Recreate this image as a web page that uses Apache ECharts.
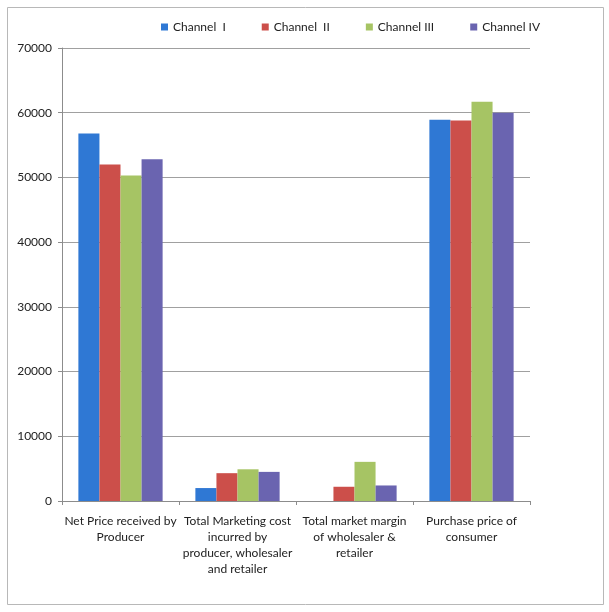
<!DOCTYPE html>
<html lang="en">
  <head>
    <meta charset="UTF-8">
    <title>Marketing channels</title>
    <style>
      body { margin: 0; background: #fff; }
      .chart { width: 609px; height: 612px; }
    </style>
  </head>
  <body>
    <div id="chart" class="chart"></div>
    <script src="https://cdn.jsdelivr.net/npm/echarts@6/dist/echarts.min.js"></script>
    <script type="text/javascript">
      // categories and values
      var categories = [
        'Net Price received by\nProducer',
        'Total Marketing cost\nincurred by\nproducer, wholesaler\nand retailer',
        'Total market margin\nof wholesaler &\nretailer',
        'Purchase price of\nconsumer'
      ];
      var channel1 = [56800, 2000, 0, 58900];
      var channel2 = [52000, 4300, 2200, 58800];
      var channel3 = [50300, 4900, 6050, 61700];
      var channel4 = [52800, 4500, 2400, 60000];
      var yTicks = [0, 10000, 20000, 30000, 40000, 50000, 60000, 70000];

      var seriesNames = ['Channel  I', 'Channel  II', 'Channel III', 'Channel IV'];
      var colors = ['#2f78d4', '#cc4f4a', '#a6c464', '#6a64b0'];
      var font = 'Lato, "Open Sans", sans-serif';

      var myChart = echarts.init(document.getElementById('chart'));

      var option = {
        backgroundColor: '#fff',
        color: colors,
        textStyle: { fontFamily: font },
        graphic: [{
          type: 'rect',
          shape: { x: 7.5, y: 7.5, width: 596, height: 597 },
          style: { fill: 'none', stroke: '#b8b8b8', lineWidth: 1 },
          silent: true
        }],
        legend: {
          top: 16,
          left: 156,
          itemWidth: 7,
          itemHeight: 7,
          itemGap: 36,
          icon: 'rect',
          textStyle: { color: '#222', fontSize: 12, fontFamily: font },
          data: seriesNames
        },
        grid: {
          left: 62,
          right: 79,
          top: 48,
          bottom: 111
        },
        xAxis: {
          type: 'category',
          data: categories,
          axisLine: { show: true, lineStyle: { color: '#8c8c8c' } },
          axisTick: { show: true, length: 4, lineStyle: { color: '#8c8c8c' } },
          axisLabel: {
            interval: 0,
            color: '#222',
            fontSize: 12,
            lineHeight: 16,
            margin: 12,
            fontFamily: font
          },
          splitLine: { show: false }
        },
        yAxis: {
          type: 'value',
          min: yTicks[0],
          max: yTicks[yTicks.length - 1],
          interval: 10000,
          axisLine: { show: true, lineStyle: { color: '#8c8c8c' } },
          axisTick: { show: true, length: 4, lineStyle: { color: '#8c8c8c' } },
          axisLabel: {
            color: '#222',
            fontSize: 12,
            margin: 10,
            fontFamily: font,
            formatter: function (v) { return String(v); }
          },
          splitLine: { show: true, lineStyle: { color: '#a0a0a0' } }
        },
        series: [
          { name: seriesNames[0], type: 'bar', data: channel1, barGap: 0, barCategoryGap: '28%' },
          { name: seriesNames[1], type: 'bar', data: channel2, barGap: 0, barCategoryGap: '28%' },
          { name: seriesNames[2], type: 'bar', data: channel3, barGap: 0, barCategoryGap: '28%' },
          { name: seriesNames[3], type: 'bar', data: channel4, barGap: 0, barCategoryGap: '28%' }
        ]
      };

      myChart.setOption(option);
    </script>
  </body>
</html>
